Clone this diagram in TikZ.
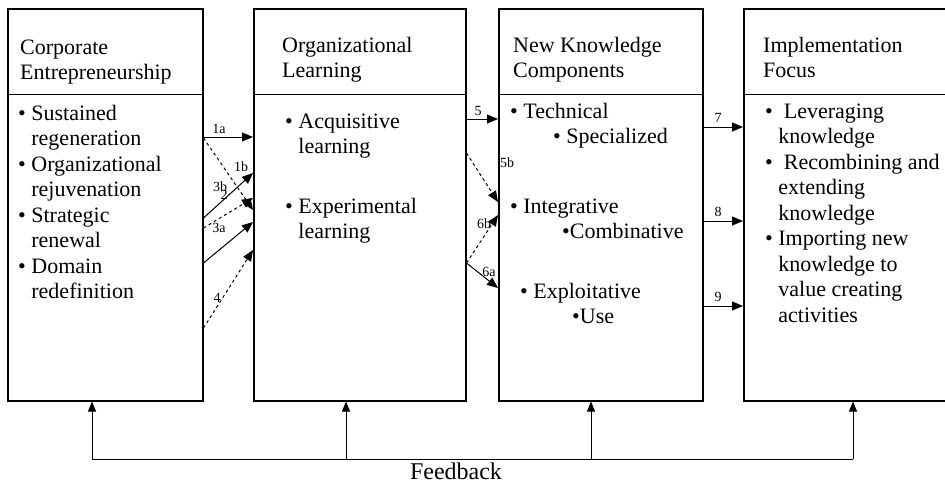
\documentclass[tikz,border=0pt]{standalone}
\usepackage{fontspec}
\setmainfont{Liberation Serif}
\usetikzlibrary{arrows.meta, calc}

\newcommand{\bl}{\textbullet\ }
\newcommand{\ind}{\hphantom{\textbullet\ }}

\begin{document}
\begin{tikzpicture}[x=1pt, y=1pt,
	box/.style={draw, line width=1.5pt, minimum height=392pt, anchor=north west, inner sep=0pt},
	rule/.style={line width=1pt},
	txt/.style={font=\fontsize{22}{25.5}\selectfont, align=left, inner sep=0pt, anchor=north west},
	lbl/.style={font=\fontsize{14}{16}\selectfont, inner sep=0pt},
	link/.style={line width=1pt, -{Triangle[length=11pt, width=9pt]}},
	fback/.style={line width=0.9pt}]
				\useasboundingbox (0,0) rectangle (945,-483);
				
				% the four stages
				\node[box, minimum width=195pt] (ce) at (7,-8) {};
				\node[box, minimum width=212pt] (ol) at (253,-8) {};
				\node[box, minimum width=204pt] (nk) at (498,-8) {};
				\node[box, minimum width=205pt] (im) at (743,-8) {};
				\foreach \b in {ce,ol,nk,im}
					\draw[rule] (\b.west |- 0,-94) -- (\b.east |- 0,-94);
				
				% headings
				\node[txt] (ce-head) at (20,-36.15) {\strut Corporate\\Entrepreneurship};
				\node[txt] (ol-head) at (282,-34.15) {\strut Organizational\\Learning};
				\node[txt] (nk-head) at (513,-34.15) {\strut New Knowledge\\Components};
				\node[txt] (im-head) at (763,-34.15) {\strut Implementation\\Focus};
				
				% contents
				\node[txt] (ce-list) at (18,-102.15) {\strut\bl Sustained\\\ind regeneration\\\bl Organizational\\\ind rejuvenation\\\bl Strategic\\\ind renewal\\\bl Domain\\\ind redefinition};
				\node[txt] (ol-acq) at (285,-110.15) {\strut\bl Acquisitive\\\ind learning};
				\node[txt] (ol-exp) at (285,-195.15) {\strut\bl Experimental\\\ind learning};
				\node[txt] (nk-tec) at (510,-100.15) {\strut\bl Technical\\\hspace*{43pt}\bl Specialized};
				\node[txt] (nk-int) at (510,-195.15) {\strut\bl Integrative\\\hspace*{52pt}\textbullet Combinative};
				\node[txt] (nk-exp) at (520,-280.15) {\strut\bl Exploitative\\\hspace*{52pt}\textbullet Use};
				\node[txt] (im-list) at (765,-100.15) {\strut\bl\ Leveraging\\\ind knowledge\\\bl\ Recombining and\\\ind extending\\\ind knowledge\\\bl Importing new\\\ind knowledge to\\\ind value creating\\\ind activities};
				
				% links from corporate entrepreneurship
				\draw[link] (ce.east |- 0,-137) -- (ol.west |- 0,-137);
				\draw[link, dashed] (ce.east |- 0,-138) -- (ol.west |- 0,-210);
				\draw[link] (ce.east |- 0,-218) -- (ol.west |- 0,-173);
				\draw[link, dashed] (ce.east |- 0,-228) -- (ol.west |- 0,-198);
				\draw[link] (ce.east |- 0,-263) -- (ol.west |- 0,-222);
				\draw[link, dashed] (ce.east |- 0,-328) -- (ol.west |- 0,-250);
				\node[lbl] (l1a) at (219,-129) {1a};
				\node[lbl] (l1b) at (241,-167) {1b};
				\node[lbl] (l2) at (224,-195) {2};
				\node[lbl] (l3b) at (220,-187) {3b};
				\node[lbl] (l3a) at (219,-228) {3a};
				\node[lbl] (l4) at (217,-298) {4};
				
				% links from organizational learning
				\draw[link] (ol.east |- 0,-119) -- (nk.west |- 0,-119);
				\draw[link, dashed] (ol.east |- 0,-153) -- (nk.west |- 0,-202);
				\draw[link, dashed] (ol.east |- 0,-263) -- (nk.west |- 0,-215);
				\draw[link] (ol.east |- 0,-263) -- (nk.west |- 0,-288);
				\node[lbl] (l5) at (478,-111) {5};
				\node[lbl] (l5b) at (507,-163) {5b};
				\node[lbl] (l6b) at (484,-224) {6b};
				\node[lbl] (l6a) at (489,-272) {6a};
				
				% links to implementation
				\foreach \y/\n in {127/7, 221/8, 306/9}{
					\draw[link] (nk.east |- 0,-\y) -- (im.west |- 0,-\y);
					\node[lbl] (l\n) at (718,-\y+9) {\n};
				}
				
				% feedback
				\coordinate (fb-ce) at (92,-459);
				\coordinate (fb-ol) at (346,-459);
				\coordinate (fb-nk) at (591,-459);
				\coordinate (fb-im) at (853,-459);
				\draw[fback] (fb-ce) -- (fb-im);
				\foreach \b in {ce,ol,nk,im}
					\draw[fback, -{Triangle[length=10pt, width=8pt]}] (fb-\b) -- (\b.south -| fb-\b);
				\node[font=\fontsize{24}{26}\selectfont, inner sep=0pt, anchor=base] (fb) at (456,-479) {Feedback};
			\end{tikzpicture}
\end{document}
